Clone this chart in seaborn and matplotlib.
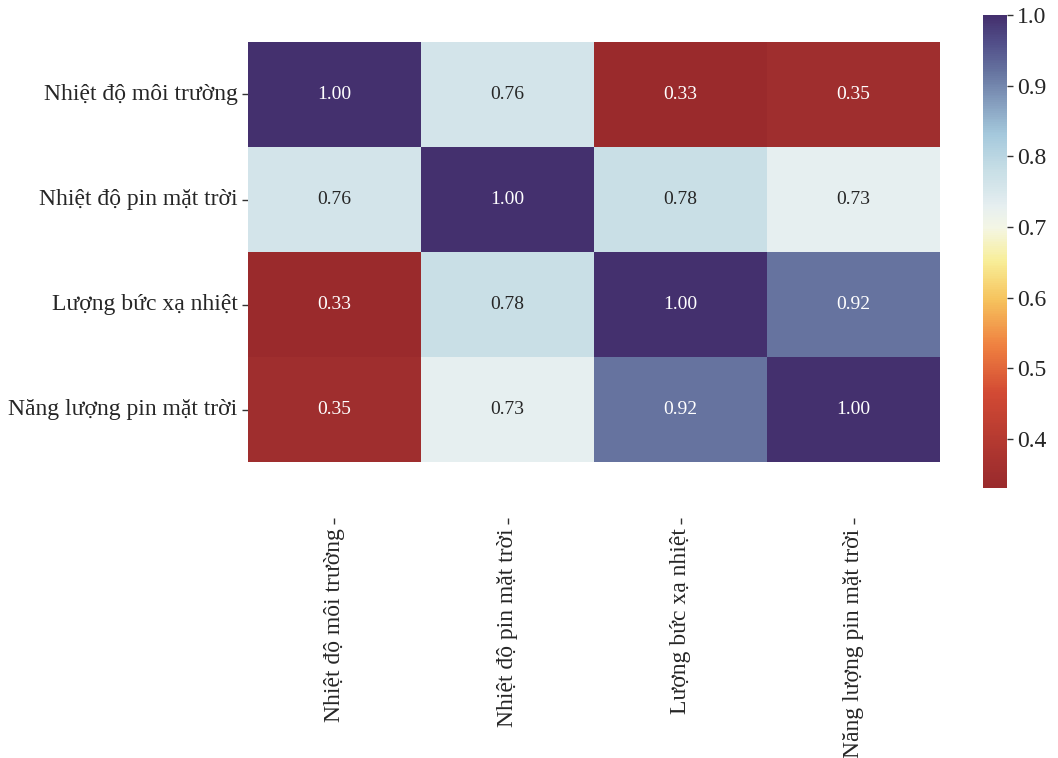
import numpy as np
import pandas as pd
import matplotlib
matplotlib.use("Agg")
import matplotlib.pyplot as plt
from matplotlib.colors import LinearSegmentedColormap
import seaborn as sns

# Variables in the correlation matrix
variables = [
    "Nhiệt độ môi trường",
    "Nhiệt độ pin mặt trời",
    "Lượng bức xạ nhiệt",
    "Năng lượng pin mặt trời",
]

# Pairwise correlation rows
row_moi_truong = [1.00, 0.76, 0.33, 0.35]
row_nhiet_pin = [0.76, 1.00, 0.78, 0.73]
row_buc_xa = [0.33, 0.78, 1.00, 0.92]
row_nang_luong = [0.35, 0.73, 0.92, 1.00]

corr = pd.DataFrame(
    [row_moi_truong, row_nhiet_pin, row_buc_xa, row_nang_luong],
    index=variables, columns=variables,
)

# Muted red-yellow-blue diverging palette
cmap = LinearSegmentedColormap.from_list(
    "muted_rdylbu",
    [
        (0.00, "#9a2a2c"),
        (0.03, "#a02e2e"),
        (0.20, "#d24a34"),
        (0.30, "#ef8040"),
        (0.40, "#f6c45e"),
        (0.48, "#f8ee98"),
        (0.55, "#f4f6e4"),
        (0.597, "#e6eff0"),
        (0.642, "#d3e4ea"),
        (0.672, "#c8dfe6"),
        (0.75, "#a4c8dc"),
        (0.881, "#6674a0"),
        (0.94, "#52508a"),
        (1.00, "#44306e"),
    ],
)

sns.set_theme(style="white")
plt.rcParams["font.family"] = ["Liberation Serif", "DejaVu Serif"]

fig = plt.figure(figsize=(10.58, 7.58), dpi=100)
ax = fig.add_axes([0.2344, 0.3166, 0.6541, 0.628])
cax = fig.add_axes([0.929, 0.356, 0.0227, 0.624])

sns.heatmap(
    corr, ax=ax, cbar_ax=cax, cmap=cmap, annot=True, fmt=".2f",
    annot_kws={"fontsize": 14},
)

# leave a gap between the last row and the x tick labels
ax.set_ylim(4.533, 0)
ax.set_facecolor("white")

ax.tick_params(axis="both", which="major", length=4, width=1, color="#333333",
               labelsize=17, left=True, bottom=True)
ax.set_xticklabels(ax.get_xticklabels(), rotation=90)
ax.set_yticklabels(ax.get_yticklabels(), rotation=0)
ax.set_xlabel("")
ax.set_ylabel("")

cax.tick_params(labelsize=17, length=4, width=1, color="#333333", right=True)
cax.set_yticks([0.4, 0.5, 0.6, 0.7, 0.8, 0.9, 1.0])

fig.savefig("out.png", dpi=100)
